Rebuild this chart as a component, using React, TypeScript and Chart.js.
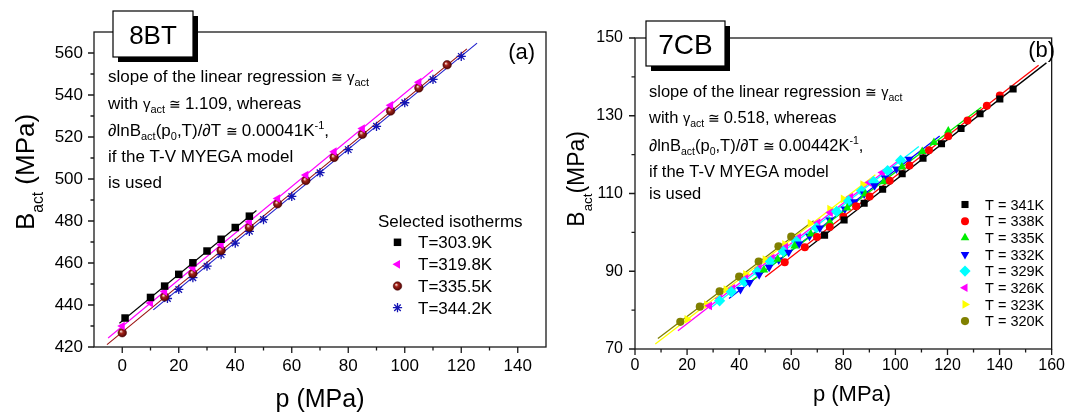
import React, { useEffect, useRef } from 'react';
import { Chart, registerables } from 'chart.js';
import { drawPoint } from 'chart.js/helpers';

Chart.register(...registerables);

const FONT = "'Liberation Sans', Arial, Helvetica, sans-serif";

// ---------------- Panel (a): 8BT ----------------
const aLabels = ['T=303.9K', 'T=319.8K', 'T=335.5K', 'T=344.2K'];
const aP303 = [1, 10, 15, 20, 25, 30, 35, 40, 45];
const aB303 = [433.8, 443.6, 449.0, 454.6, 460.1, 465.7, 471.3, 476.9, 482.3];
const aP319 = [0, 10, 15, 25, 35, 45, 55, 65, 75, 85, 95, 105];
const aB319 = [430.0, 440.9, 446.4, 457.7, 468.7, 479.7, 490.7, 501.9, 513.0, 524.0, 535.1, 546.1];
const aP335 = [0, 15, 25, 35, 45, 55, 65, 75, 85, 95, 105, 115];
const aB335 = [426.8, 443.9, 455.0, 466.0, 477.0, 488.2, 499.3, 510.3, 521.3, 532.4, 543.4, 554.4];
const aP344 = [16, 20, 25, 30, 35, 40, 45, 50, 60, 70, 80, 90, 100, 110, 120];
const aB344 = [443.1, 447.4, 453.0, 458.5, 464.0, 469.5, 475.1, 480.7, 491.7, 503.0, 514.0, 525.1, 536.3, 547.4, 558.4];
// linear regression lines (end points)
const aFitP303 = [-1, 47.5];
const aFitB303 = [431.3, 485.0];
const aFitP319 = [-5, 110];
const aFitB319 = [424.3, 551.9];
const aFitP335 = [-5.4, 122];
const aFitB335 = [421.1, 562.0];
const aFitP344 = [11, 125.6];
const aFitB344 = [437.7, 564.7];

// ---------------- Panel (b): 7CB ----------------
const bLabels = ['T = 341K', 'T = 338K', 'T = 335K', 'T = 332K', 'T = 329K', 'T = 326K', 'T = 323K', 'T = 320K'];
const bP341 = [72.8, 80.3, 88.0, 95.1, 102.6, 110.6, 117.7, 125.2, 132.5, 140.1, 145.2];
const bB341 = [99.3, 103.2, 107.5, 111.1, 115.1, 119.1, 122.8, 126.7, 130.5, 134.3, 136.9];
const bP338 = [57.5, 65.2, 69.9, 74.8, 80.0, 84.9, 90.1, 97.8, 105.4, 112.9, 120.3, 127.7, 135.1, 140.1];
const bB338 = [92.3, 96.2, 98.8, 101.4, 104.0, 106.7, 109.2, 113.3, 117.2, 121.1, 124.7, 128.8, 132.6, 135.2];
const bP335 = [49.5, 54.8, 61.3, 67.5, 74.8, 81.5, 88.4, 95.5, 102.5, 110.3, 114.8, 120.3];
const bB335 = [90.3, 93.1, 96.5, 99.6, 102.7, 106.3, 109.9, 113.0, 116.8, 120.8, 123.1, 126.1];
const bP332 = [40.5, 44.0, 47.7, 51.5, 55.2, 59.0, 63.0, 67.0, 71.0, 74.8, 80.6, 84.3, 88.0, 92.0, 96.0, 100.4, 105.2];
const bB332 = [85.3, 87.1, 89.1, 91.0, 92.9, 94.9, 97.0, 99.0, 101.1, 103.2, 106.0, 107.9, 109.9, 112.0, 114.0, 116.3, 118.8];
const bP329 = [32.5, 37.0, 42.0, 47.0, 52.0, 57.0, 62.0, 69.7, 77.4, 82.0, 87.0, 91.6, 97.0, 102.0];
const bB329 = [82.4, 84.7, 87.3, 89.9, 92.5, 95.1, 97.7, 101.2, 105.4, 108.1, 110.7, 113.1, 115.9, 118.5];
const bP326 = [28.6, 32.5, 37.5, 42.5, 47.6, 52.6, 57.8, 62.8, 70.2, 75.0, 82.8, 90.0, 95.0];
const bB326 = [81.1, 83.0, 85.6, 88.2, 90.8, 93.4, 96.2, 98.7, 102.5, 105.1, 109.1, 112.8, 115.4];
const bP323 = [20.0, 27.5, 35.0, 42.5, 50.0, 57.5, 67.3, 74.8, 80.0, 87.5];
const bB323 = [77.6, 81.4, 85.3, 89.2, 93.0, 96.9, 102.3, 106.0, 108.6, 112.3];
const bP320 = [17.4, 24.9, 32.5, 40.0, 47.5, 55.1, 60.0];
const bB320 = [77.0, 80.9, 84.8, 88.6, 92.5, 96.4, 98.9];
const bFitP341 = [66, 158];
const bFitB341 = [95.8, 143.6];
const bFitP338 = [50, 155];
const bFitB338 = [88.5, 143.0];
const bFitP335 = [44.5, 133];
const bFitB335 = [87.4, 132.2];
const bFitP332 = [36.1, 117];
const bFitB332 = [83.0, 124.8];
const bFitP329 = [28.5, 109];
const bFitB329 = [80.3, 122.1];
const bFitP326 = [16.5, 102.6];
const bFitB326 = [74.7, 119.2];
const bFitP323 = [7.8, 92.3];
const bFitB323 = [71.3, 114.8];
const bFitP320 = [8.8, 68.6];
const bFitB320 = [72.7, 103.0];

const zip = (xs: number[], ys: number[]) => xs.map((x, i) => ({ x, y: ys[i] }));

type Seg = { t: string; s: number; dy?: number };

function drawRich(ctx: CanvasRenderingContext2D, segs: Seg[], x: number, y: number) {
  let cx = x;
  for (const g of segs) {
    ctx.font = `${g.s}px ${FONT}`;
    ctx.fillText(g.t, cx, y + (g.dy ?? 0));
    cx += ctx.measureText(g.t).width;
  }
  return cx;
}

function ballGradient(ctx: CanvasRenderingContext2D, x: number, y: number) {
  const g = ctx.createRadialGradient(x - 1.4, y - 1.4, 0.3, x, y, 4.6);
  g.addColorStop(0, '#f6d6cc');
  g.addColorStop(0.35, '#a3241a');
  g.addColorStop(1, '#4a0202');
  return g;
}

const ballFill = (c: any) => {
  const chart = c.chart;
  if (c.type !== 'data' || !chart.chartArea || !c.raw) return '#8B1010';
  const x = chart.scales.x.getPixelForValue(c.raw.x);
  const y = chart.scales.y.getPixelForValue(c.raw.y);
  return ballGradient(chart.ctx, x, y);
};

function drawMarker(ctx: CanvasRenderingContext2D, ds: any, x: number, y: number) {
  ctx.save();
  ctx.fillStyle = typeof ds.pointBackgroundColor === 'function' ? ballGradient(ctx, x, y) : ds.pointBackgroundColor;
  ctx.strokeStyle = ds.pointBorderColor;
  ctx.lineWidth = ds.pointBorderWidth ?? 0;
  drawPoint(ctx, {
    pointStyle: ds.pointStyle,
    rotation: ds.pointRotation ?? 0,
    radius: ds.pointRadius,
    borderWidth: ds.pointBorderWidth ?? 0,
  } as any, x, y);
  ctx.restore();
}

function drawFrameAndTicks(chart: any) {
  const { ctx, chartArea: a } = chart;
  const xs = chart.scales.x;
  const ys = chart.scales.y;
  ctx.save();
  ctx.strokeStyle = '#1a1a1a';
  ctx.lineWidth = 1.3;
  ctx.beginPath();
  xs.ticks.forEach((t: any) => {
    const major = t.label !== '' && t.label != null;
    if (!major && (t.value === xs.min || t.value === xs.max)) return;
    const px = xs.getPixelForValue(t.value);
    ctx.moveTo(px, a.bottom);
    ctx.lineTo(px, a.bottom + (major ? 6 : 3.5));
  });
  ys.ticks.forEach((t: any) => {
    const major = t.label !== '' && t.label != null;
    if (!major && (t.value === ys.min || t.value === ys.max)) return;
    const py = ys.getPixelForValue(t.value);
    ctx.moveTo(a.left, py);
    ctx.lineTo(a.left - (major ? 6 : 3.5), py);
  });
  ctx.stroke();
  ctx.strokeRect(a.left, a.top, a.right - a.left, a.bottom - a.top);
  ctx.restore();
}

function drawTagBox(ctx: CanvasRenderingContext2D, x: number, y: number, w: number, h: number, text: string, size: number, baseline: number) {
  ctx.save();
  ctx.fillStyle = '#000';
  ctx.fillRect(x + 5, y + 5, w, h);
  ctx.fillStyle = '#fff';
  ctx.fillRect(x, y, w, h);
  ctx.strokeStyle = '#000';
  ctx.lineWidth = 1.2;
  ctx.strokeRect(x, y, w, h);
  ctx.fillStyle = '#000';
  ctx.font = `${size}px ${FONT}`;
  ctx.textAlign = 'center';
  ctx.fillText(text, x + w / 2, baseline);
  ctx.restore();
}

const leftDecor = {
  id: 'leftDecor',
  afterDraw(chart: any) {
    const ctx: CanvasRenderingContext2D = chart.ctx;
    drawFrameAndTicks(chart);
    ctx.save();
    ctx.fillStyle = '#000';
    ctx.textAlign = 'left';
    ctx.textBaseline = 'alphabetic';
    const x0 = 108;
    drawRich(ctx, [{ t: 'slope of the linear regression ', s: 17 }, { t: '\u2245 ', s: 14 }, { t: '\u03b3', s: 15 }, { t: 'act', s: 11, dy: 4 }], x0, 82);
    drawRich(ctx, [{ t: 'with ', s: 17 }, { t: '\u03b3', s: 15 }, { t: 'act', s: 11, dy: 4 }, { t: ' \u2245 ', s: 14 }, { t: '1.109, whereas', s: 17 }], x0, 109);
    drawRich(ctx, [{ t: '\u2202lnB', s: 17 }, { t: 'act', s: 11, dy: 4 }, { t: '(p', s: 17 }, { t: '0', s: 11, dy: 4 }, { t: ',T)/\u2202T ', s: 17 }, { t: '\u2245 ', s: 14 }, { t: '0.00041K', s: 17 }, { t: '-1', s: 11, dy: -7 }, { t: ',', s: 17 }], x0, 136);
    drawRich(ctx, [{ t: 'if the T-V MYEGA model', s: 17 }], x0, 162);
    drawRich(ctx, [{ t: 'is used', s: 17 }], x0, 188);
    drawRich(ctx, [{ t: 'Selected isotherms', s: 17 }], 378, 227);
    const rows = [242.3, 264.3, 286, 307.7];
    rows.forEach((cy, i) => {
      const ds = chart.data.datasets[i];
      drawMarker(ctx, ds, 397.5, cy);
      ctx.fillStyle = '#000';
      drawRich(ctx, [{ t: ds.label, s: 17 }], 418, cy + 6);
    });
    ctx.font = `22px ${FONT}`;
    ctx.textAlign = 'center';
    ctx.fillText('(a)', 521.7, 58.5);
    ctx.font = `25px ${FONT}`;
    ctx.fillText('p (MPa)', 320, 407);
    ctx.textAlign = 'left';
    ctx.save();
    ctx.translate(34, 230);
    ctx.rotate(-Math.PI / 2);
    drawRich(ctx, [{ t: 'B', s: 26 }, { t: 'act', s: 15.6, dy: 8.6 }, { t: ' (MPa)', s: 26 }], 0, 0);
    ctx.restore();
    ctx.restore();
    drawTagBox(ctx, 113, 11, 80, 46, '8BT', 26, 43.5);
  },
};

const rightDecor = {
  id: 'rightDecor',
  afterDraw(chart: any) {
    const ctx: CanvasRenderingContext2D = chart.ctx;
    drawFrameAndTicks(chart);
    ctx.save();
    ctx.fillStyle = '#000';
    ctx.textAlign = 'left';
    ctx.textBaseline = 'alphabetic';
    const x0 = 649;
    drawRich(ctx, [{ t: 'slope of the linear regression ', s: 16.5 }, { t: '\u2245 ', s: 13.5 }, { t: '\u03b3', s: 14.5 }, { t: 'act', s: 10.5, dy: 4 }], x0, 97);
    drawRich(ctx, [{ t: 'with ', s: 16.5 }, { t: '\u03b3', s: 14.5 }, { t: 'act', s: 10.5, dy: 4 }, { t: ' \u2245 ', s: 13.5 }, { t: '0.518, whereas', s: 16.5 }], x0, 123);
    drawRich(ctx, [{ t: '\u2202lnB', s: 16.5 }, { t: 'act', s: 10.5, dy: 4 }, { t: '(p', s: 16.5 }, { t: '0', s: 10.5, dy: 4 }, { t: ',T)/\u2202T ', s: 16.5 }, { t: '\u2245 ', s: 13.5 }, { t: '0.00442K', s: 16.5 }, { t: '-1', s: 10.5, dy: -7 }, { t: ',', s: 16.5 }], x0, 151);
    drawRich(ctx, [{ t: 'if the T-V MYEGA model', s: 16.5 }], x0, 177);
    drawRich(ctx, [{ t: 'is used', s: 16.5 }], x0, 199);
    for (let i = 0; i < 8; i++) {
      const ds = chart.data.datasets[i];
      const cy = 204.5 + i * 16.65;
      drawMarker(ctx, ds, 965, cy);
      ctx.fillStyle = '#000';
      drawRich(ctx, [{ t: ds.label, s: 14.5 }], 985, cy + 5.2);
    }
    ctx.font = `22px ${FONT}`;
    ctx.textAlign = 'center';
    ctx.fillText('(b)', 1041.7, 56.5);
    ctx.fillText('p (MPa)', 852, 401);
    ctx.textAlign = 'left';
    ctx.save();
    ctx.translate(584, 226.7);
    ctx.rotate(-Math.PI / 2);
    drawRich(ctx, [{ t: 'B', s: 23 }, { t: 'act', s: 13.3, dy: 7.6 }, { t: '(MPa)', s: 23 }], 0, 0);
    ctx.restore();
    ctx.restore();
    drawTagBox(ctx, 646, 21, 79, 45, '7CB', 28, 54);
  },
};

function pointSet(label: string, xs: number[], ys: number[], style: string, radius: number, color: any, border: string, bw: number, rotation = 0) {
  return {
    label,
    data: zip(xs, ys),
    showLine: false,
    pointStyle: style,
    pointRadius: radius,
    pointRotation: rotation,
    pointBackgroundColor: color,
    pointBorderColor: border,
    pointBorderWidth: bw,
    pointHoverRadius: radius,
  };
}

function lineSet(xs: number[], ys: number[], color: string, width = 1.1) {
  return {
    label: '',
    data: zip(xs, ys),
    showLine: true,
    pointRadius: 0,
    pointHoverRadius: 0,
    borderColor: color,
    borderWidth: width,
    fill: false,
  };
}

function scaleOpts(min: number, max: number, base: number, labelMax: number, fontSize: number, padding: number, fit: (s: any) => void) {
  return {
    type: 'linear' as const,
    min,
    max,
    afterFit: fit,
    grid: { display: false, drawTicks: false },
    border: { display: false },
    ticks: {
      stepSize: 10,
      autoSkip: false,
      maxRotation: 0,
      minRotation: 0,
      padding,
      color: '#000',
      font: { family: FONT, size: fontSize },
      callback: (v: any) => {
        const n = Math.round(Number(v));
        return (n - base) % 20 === 0 && n >= base && n <= labelMax ? String(n) : '';
      },
    },
  };
}

export default function App() {
  const leftRef = useRef<HTMLCanvasElement>(null);
  const rightRef = useRef<HTMLCanvasElement>(null);

  useEffect(() => {
    const left = new Chart(leftRef.current as HTMLCanvasElement, {
      type: 'scatter',
      data: {
        datasets: [
          pointSet(aLabels[0], aP303, aB303, 'rect', 5.3, '#000000', '#000000', 0),
          pointSet(aLabels[1], aP319, aB319, 'triangle', 5.0, '#FF00FF', '#FF00FF', 0, -90),
          pointSet(aLabels[2], aP335, aB335, 'circle', 4.3, ballFill, '#4a0000', 0.5),
          pointSet(aLabels[3], aP344, aB344, 'star', 4.6, '#1414B4', '#1414B4', 1.3),
          lineSet(aFitP303, aFitB303, '#000000'),
          lineSet(aFitP319, aFitB319, '#FF00FF'),
          lineSet(aFitP335, aFitB335, '#9A1010'),
          lineSet(aFitP344, aFitB344, '#1E1ECC'),
        ] as any,
      },
      options: {
        responsive: false,
        animation: false,
        events: [],
        layout: { padding: { left: 0, right: 1072 - 546, top: 32, bottom: 0 } },
        plugins: { legend: { display: false }, tooltip: { enabled: false }, title: { display: false } },
        scales: {
          x: scaleOpts(-10, 150, 0, 140, 17, 9, (s: any) => { s.height = 412 - 347; }),
          y: scaleOpts(420, 570, 420, 560, 17, 11, (s: any) => { s.width = 94; }),
        } as any,
      },
      plugins: [leftDecor],
    });

    const right = new Chart(rightRef.current as HTMLCanvasElement, {
      type: 'scatter',
      data: {
        datasets: [
          pointSet(bLabels[0], bP341, bB341, 'rect', 5.0, '#000000', '#000000', 0),
          pointSet(bLabels[1], bP338, bB338, 'circle', 4.0, '#FF0000', '#FF0000', 0),
          pointSet(bLabels[2], bP335, bB335, 'triangle', 5.0, '#00EE00', '#00EE00', 0),
          pointSet(bLabels[3], bP332, bB332, 'triangle', 5.0, '#0000FF', '#0000FF', 0, 180),
          pointSet(bLabels[4], bP329, bB329, 'rectRot', 5.6, '#00FFFF', '#00FFFF', 0),
          pointSet(bLabels[5], bP326, bB326, 'triangle', 5.0, '#FF00FF', '#FF00FF', 0, -90),
          pointSet(bLabels[6], bP323, bB323, 'triangle', 5.0, '#FFFF00', '#FFFF00', 0, 90),
          pointSet(bLabels[7], bP320, bB320, 'circle', 4.1, '#808000', '#808000', 0),
          lineSet(bFitP341, bFitB341, '#000000', 1.3),
          lineSet(bFitP338, bFitB338, '#FF0000', 1.3),
          lineSet(bFitP335, bFitB335, '#00EE00', 1.3),
          lineSet(bFitP332, bFitB332, '#0000FF', 1.3),
          lineSet(bFitP329, bFitB329, '#00FFFF', 1.3),
          lineSet(bFitP326, bFitB326, '#FF00FF', 1.3),
          lineSet(bFitP323, bFitB323, '#FFFF00', 1.3),
          lineSet(bFitP320, bFitB320, '#808000', 1.3),
        ] as any,
      },
      options: {
        responsive: false,
        animation: false,
        events: [],
        layout: { padding: { left: 560, right: 1072 - 1055, top: 38, bottom: 0 } },
        plugins: { legend: { display: false }, tooltip: { enabled: false }, title: { display: false } },
        scales: {
          x: scaleOpts(0, 160, 0, 160, 16, 7, (s: any) => { s.height = 412 - 349; }),
          y: scaleOpts(70, 150, 70, 150, 16, 12, (s: any) => { s.width = 75; }),
        } as any,
      },
      plugins: [rightDecor],
    });

    return () => {
      left.destroy();
      right.destroy();
    };
  }, []);

  const canvasStyle: React.CSSProperties = { position: 'absolute', left: 0, top: 0, width: 1072, height: 412 };
  return (
    <div style={{ position: 'absolute', left: 0, top: 0, width: 1072, height: 412, background: '#fff' }}>
      <canvas ref={leftRef} width={1072} height={412} style={canvasStyle} />
      <canvas ref={rightRef} width={1072} height={412} style={canvasStyle} />
    </div>
  );
}
